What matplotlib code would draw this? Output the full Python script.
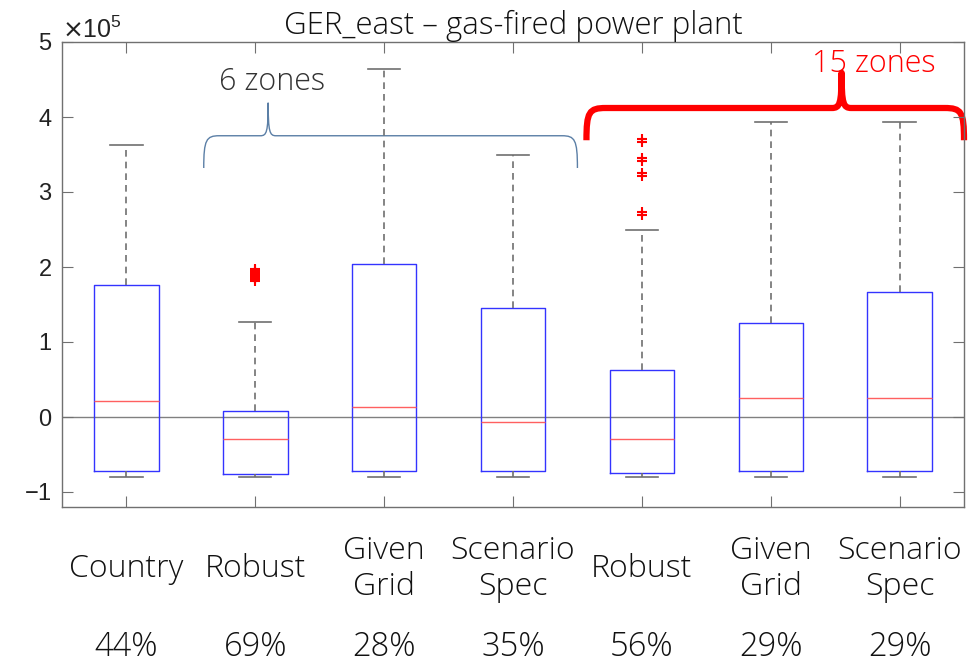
import matplotlib
matplotlib.use("Agg")
import matplotlib.pyplot as plt
import numpy as np
from matplotlib.path import Path
from matplotlib.patches import PathPatch
from matplotlib.ticker import ScalarFormatter, FixedLocator

# ---- data (values in units of 1e5) ----
labels = ["Country", "Robust", "Given\nGrid", "Scenario\nSpec", "Robust", "Given\nGrid", "Scenario\nSpec"]
percents = ["44%", "69%", "28%", "35%", "56%", "29%", "29%"]
whisker_low = [-0.80, -0.80, -0.80, -0.80, -0.80, -0.80, -0.80]
q1 = [-0.72, -0.76, -0.72, -0.72, -0.74, -0.72, -0.72]
median = [0.22, -0.29, 0.14, -0.06, -0.29, 0.25, 0.25]
q3 = [1.76, 0.08, 2.04, 1.45, 0.63, 1.25, 1.67]
whisker_high = [3.63, 1.27, 4.64, 3.49, 2.50, 3.94, 3.94]
outliers = [
    [],
    [1.98, 1.96, 1.94, 1.92, 1.90, 1.88, 1.86, 1.84, 1.82],
    [],
    [],
    [3.71, 3.67, 3.46, 3.42, 3.26, 3.22, 2.73, 2.69],
    [],
    [],
]
scale = 1e5

title = "GER_east \u2013 gas-fired power plant"

fig = plt.figure(figsize=(9.77, 6.62), dpi=100)
ax = fig.add_axes([62 / 977, 1 - 507 / 662, (964 - 62) / 977, (507 - 42) / 662])

stats = []
for i in range(len(labels)):
    stats.append(dict(
        whislo=whisker_low[i] * scale, q1=q1[i] * scale, med=median[i] * scale,
        q3=q3[i] * scale, whishi=whisker_high[i] * scale,
        fliers=np.array(outliers[i]) * scale, label=""))

positions = np.arange(1, len(labels) + 1)
ax.axhline(0, color="#808080", lw=1.0, zorder=0)
ax.bxp(stats, positions=positions, widths=0.5, capwidths=0.25,
       boxprops=dict(color="#3333ff", lw=1.0),
       medianprops=dict(color="#ff6060", lw=1.0),
       whiskerprops=dict(color="#707070", lw=1.2, linestyle=(0, (4, 3))),
       capprops=dict(color="#707070", lw=1.2),
       flierprops=dict(marker="+", markeredgecolor="red", markersize=7, markeredgewidth=1.5,
                       linestyle="none"))

ax.set_xlim(0.5, 7.5)
ax.set_ylim(-1.2 * scale, 5 * scale)
ax.yaxis.set_major_locator(FixedLocator(np.arange(-1, 6) * scale))
fmt = ScalarFormatter(useMathText=True)
fmt.set_powerlimits((5, 5))
ax.yaxis.set_major_formatter(fmt)
ax.set_xticks(positions)
ax.set_xticklabels([])
ax.tick_params(direction="in", length=8, color="#707070", top=True, right=True,
               labelsize=17, labelcolor="#222222", pad=7)
for lab in ax.get_yticklabels():
    lab.set_family("Liberation Sans")
for sp in ax.spines.values():
    sp.set_color("#707070")
    sp.set_linewidth(1.0)
off = ax.yaxis.get_offset_text()
off.set_fontsize(18)
off.set_color("#222222")
off.set_family("Liberation Sans")

thin = dict(family="Open Sans", weight="light")
ax.set_title(title, fontsize=22.5, color="#111111", pad=4, **thin)

# category labels and percentages under the axes
trans = matplotlib.transforms.blended_transform_factory(ax.transData, fig.transFigure)
for x, lab, pct in zip(positions, labels, percents):
    fig.text(x, 1 - 569 / 662, lab, transform=trans, ha="center", va="center",
             fontsize=23, color="#111111", linespacing=1.17, **thin)
    fig.text(x, 1 - 647 / 662, pct, transform=trans, ha="center", va="center",
             fontsize=23.5, color="#111111", **thin)


def brace(x0, x1, xt, y_end, y_bar, y_tip, r):
    """Curly brace path opening downward, in data units (x) and 1e5 units (y)."""
    ry = (y_bar - y_end) * 0.6
    tipw = r * 0.5
    verts = [
        (x0, y_end), (x0, y_bar - ry * 0.2), (x0 + 0.02, y_bar), (x0 + r, y_bar),
        (xt - tipw, y_bar),
        (xt - tipw * 0.2, y_bar), (xt, y_bar + 0.05), (xt, y_tip),
        (xt, y_bar + 0.05), (xt + tipw * 0.2, y_bar), (xt + tipw, y_bar),
        (x1 - r, y_bar),
        (x1 - 0.02, y_bar), (x1, y_bar - ry * 0.2), (x1, y_end),
    ]
    codes = [Path.MOVETO, Path.CURVE4, Path.CURVE4, Path.CURVE4,
             Path.LINETO,
             Path.CURVE4, Path.CURVE4, Path.CURVE4,
             Path.CURVE4, Path.CURVE4, Path.CURVE4,
             Path.LINETO,
             Path.CURVE4, Path.CURVE4, Path.CURVE4]
    verts = [(vx, vy * scale) for vx, vy in verts]
    return Path(verts, codes)


p6 = brace(1.60, 4.50, 2.10, 3.32, 3.75, 4.19, 0.12)
ax.add_patch(PathPatch(p6, facecolor="none", edgecolor="#5b7fa6", lw=1.0, clip_on=False))
ax.text(2.13, 4.46 * scale, "6 zones", ha="center", va="center", fontsize=22,
        color="#333333", **thin)

p15 = brace(4.57, 7.50, 6.55, 3.69, 4.12, 4.59, 0.15)
ax.add_patch(PathPatch(p15, facecolor="none", edgecolor="red", lw=4.5, clip_on=False,
                       capstyle="butt", joinstyle="round"))
ax.text(6.80, 4.70 * scale, "15 zones", ha="center", va="center", fontsize=22,
        color="red", **thin)

fig.savefig("out.png", dpi=100)
